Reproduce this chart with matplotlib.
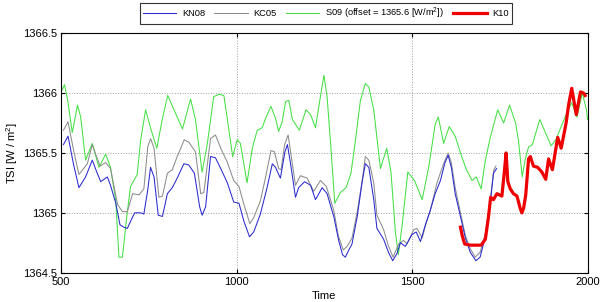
import matplotlib
matplotlib.use("Agg")
import matplotlib.pyplot as plt

plt.rcParams['font.family'] = ['Liberation Sans', 'DejaVu Sans']
plt.rcParams['mathtext.default'] = 'regular'

# KN08
kn_yr = [507, 520, 536, 551, 570, 589, 602, 613, 632, 641, 656, 668, 679, 689, 703, 710,
         727, 736, 747, 755, 765, 777, 789, 803, 817, 831, 850, 864, 880, 895, 902, 912,
         926, 940, 955, 974, 992, 1007, 1021, 1037, 1049, 1068, 1087, 1102, 1111, 1125,
         1138, 1145, 1154, 1168, 1177, 1194, 1211, 1225, 1244, 1258, 1277, 1291, 1302,
         1310, 1320, 1329, 1344, 1358, 1367, 1377, 1391, 1400, 1419, 1433, 1445, 1457,
         1467, 1481, 1500, 1512, 1524, 1538, 1552, 1566, 1581, 1594, 1603, 1612, 1623,
         1638, 1652, 1666, 1682, 1694, 1709, 1723, 1732, 1741]
kn_val = [1365.57, 1365.64, 1365.40, 1365.21, 1365.30, 1365.44, 1365.34, 1365.26, 1365.30,
          1365.23, 1365.08, 1364.90, 1364.88, 1364.87, 1364.96, 1365.00, 1365.00, 1364.99,
          1365.19, 1365.38, 1365.30, 1364.98, 1364.97, 1365.16, 1365.21, 1365.29, 1365.41,
          1365.40, 1365.33, 1365.05, 1364.98, 1365.05, 1365.47, 1365.46, 1365.37, 1365.25,
          1365.09, 1365.08, 1364.93, 1364.80, 1364.84, 1364.99, 1365.21, 1365.41, 1365.38,
          1365.29, 1365.51, 1365.57, 1365.41, 1365.13, 1365.21, 1365.26, 1365.23, 1365.11,
          1365.21, 1365.16, 1364.97, 1364.77, 1364.65, 1364.63, 1364.69, 1364.74, 1364.97,
          1365.26, 1365.41, 1365.38, 1365.11, 1364.87, 1364.78, 1364.67, 1364.60, 1364.66,
          1364.75, 1364.72, 1364.82, 1364.84, 1364.76, 1364.90, 1365.02, 1365.16, 1365.27,
          1365.42, 1365.48, 1365.38, 1365.16, 1364.97, 1364.79, 1364.67, 1364.60, 1364.63,
          1364.80, 1365.08, 1365.33, 1365.37]

# KC05
kc_yr = [507, 520, 536, 551, 575, 589, 611, 627, 641, 661, 675, 689, 704, 722, 736, 747,
         755, 765, 779, 789, 803, 817, 831, 851, 864, 883, 898, 907, 926, 940, 955, 974,
         992, 1007, 1021, 1038, 1049, 1068, 1083, 1098, 1108, 1120, 1127, 1137, 1147,
         1156, 1168, 1182, 1201, 1220, 1239, 1256, 1277, 1290, 1304, 1315, 1329, 1344,
         1358, 1367, 1377, 1391, 1400, 1419, 1432, 1446, 1462, 1476, 1486, 1505, 1514,
         1529, 1541, 1552, 1571, 1590, 1603, 1612, 1623, 1638, 1652, 1666, 1680, 1694,
         1709, 1723, 1733, 1739]
kc_val = [1365.69, 1365.76, 1365.52, 1365.32, 1365.41, 1365.57, 1365.39, 1365.42, 1365.37,
          1365.07, 1365.01, 1365.01, 1365.16, 1365.15, 1365.20, 1365.55, 1365.62, 1365.54,
          1365.13, 1365.14, 1365.33, 1365.36, 1365.47, 1365.61, 1365.59, 1365.51, 1365.16,
          1365.17, 1365.62, 1365.65, 1365.54, 1365.42, 1365.27, 1365.22, 1365.07, 1364.91,
          1364.96, 1365.10, 1365.30, 1365.52, 1365.51, 1365.37, 1365.36, 1365.57, 1365.65,
          1365.47, 1365.23, 1365.31, 1365.29, 1365.18, 1365.27, 1365.22, 1365.02, 1364.81,
          1364.69, 1364.72, 1364.79, 1365.01, 1365.27, 1365.47, 1365.44, 1365.25, 1364.98,
          1364.86, 1364.73, 1364.63, 1364.74, 1364.77, 1364.74, 1364.86, 1364.87, 1364.79,
          1364.92, 1365.02, 1365.25, 1365.41, 1365.50, 1365.42, 1365.21, 1365.00, 1364.81,
          1364.70, 1364.63, 1364.67, 1364.83, 1365.11, 1365.36, 1365.39]

# S09 (offset = 1365.6)
s09_yr = [502, 510, 519, 532, 547, 556, 570, 589, 608, 627, 641, 656, 665, 675, 687, 698,
          717, 727, 741, 758, 773, 789, 804, 822, 846, 869, 883, 902, 917, 935, 950, 964,
          974, 989, 1002, 1011, 1030, 1045, 1059, 1073, 1083, 1098, 1111, 1120, 1130, 1140,
          1149, 1159, 1179, 1198, 1211, 1225, 1239, 1249, 1258, 1268, 1280, 1296, 1312,
          1326, 1339, 1353, 1367, 1377, 1391, 1410, 1428, 1440, 1453, 1461, 1472, 1488,
          1507, 1529, 1548, 1566, 1575, 1590, 1606, 1623, 1638, 1655, 1671, 1683, 1697,
          1709, 1723, 1744, 1761, 1778, 1795, 1803, 1814, 1822, 1832, 1843, 1864, 1883,
          1896, 1910, 1922, 1936, 1955, 1970, 1985, 1997, 2000]
s09_val = [1366.02, 1366.07, 1365.94, 1365.67, 1365.90, 1365.80, 1365.44, 1365.58, 1365.38,
           1365.49, 1365.38, 1365.10, 1364.63, 1364.63, 1364.96, 1365.22, 1365.32, 1365.61,
           1365.86, 1365.68, 1365.54, 1365.79, 1365.98, 1365.86, 1365.70, 1365.95, 1365.78,
           1365.34, 1365.58, 1365.97, 1365.99, 1365.98, 1365.78, 1365.47, 1365.61, 1365.58,
           1365.25, 1365.54, 1365.69, 1365.71, 1365.79, 1365.89, 1365.79, 1365.68, 1365.76,
           1365.93, 1365.94, 1365.78, 1365.69, 1365.86, 1365.82, 1365.71, 1365.97, 1366.15,
           1365.97, 1365.58, 1365.08, 1365.17, 1365.21, 1365.33, 1365.61, 1365.94, 1366.08,
           1366.05, 1365.86, 1365.37, 1365.54, 1365.34, 1364.83, 1364.65, 1364.90, 1365.34,
           1365.27, 1365.11, 1365.39, 1365.74, 1365.80, 1365.58, 1365.72, 1365.64, 1365.50,
           1365.36, 1365.27, 1365.30, 1365.20, 1365.44, 1365.63, 1365.86, 1365.75, 1365.90,
           1365.75, 1365.61, 1365.30, 1365.44, 1365.55, 1365.57, 1365.78, 1365.65, 1365.56,
           1365.61, 1365.70, 1365.80, 1365.92, 1365.80, 1366.00, 1365.86, 1365.78]

# K10
k10_yr = [1638, 1643, 1650, 1666, 1697, 1709, 1718, 1724, 1732, 1742, 1756, 1763, 1768,
          1773, 1780, 1789, 1799, 1808, 1813, 1818, 1824, 1832, 1837, 1846, 1858, 1870,
          1881, 1889, 1900, 1915, 1925, 1939, 1946, 1955, 1968, 1980, 1989, 1993]
k10_val = [1364.88, 1364.81, 1364.74, 1364.73, 1364.73, 1364.78, 1364.97, 1365.13, 1365.11,
           1365.16, 1365.14, 1365.34, 1365.50, 1365.26, 1365.20, 1365.16, 1365.14, 1365.04,
           1365.00, 1365.04, 1365.15, 1365.45, 1365.47, 1365.39, 1365.38, 1365.34, 1365.28,
           1365.45, 1365.36, 1365.63, 1365.54, 1365.75, 1365.90, 1366.04, 1365.82, 1366.01,
           1366.00, 1365.98]

fig = plt.figure(figsize=(6, 3.02), dpi=100)
ax = fig.add_axes([0.1017, 0.097, 0.8775, 0.793])

ax.plot(s09_yr, s09_val, color='#44e044', lw=0.75, zorder=2,
        label='S09 (offset = 1365.6 [W/m$^2$])')
ax.plot(kc_yr, kc_val, color='#8c8c8c', lw=0.75, zorder=3, label='KC05')
ax.plot(kn_yr, kn_val, color='#2a2ad0', lw=0.75, zorder=4, label='KN08')
ax.plot(k10_yr, k10_val, color='#ee0000', lw=2.3, zorder=5, label='K10')

ax.set_xlim(500, 2000)
ax.set_ylim(1364.5, 1366.5)
ax.set_xticks([500, 1000, 1500, 2000])
ax.set_yticks([1364.5, 1365, 1365.5, 1366, 1366.5])
ax.set_yticklabels(['1364.5', '1365', '1365.5', '1366', '1366.5'])
ax.grid(True, linestyle=':', color='#a0a0a0', lw=0.7)
ax.tick_params(direction='in', top=True, right=True, length=3, labelsize=8, pad=3)
for s in ax.spines.values():
    s.set_linewidth(0.8)

ax.set_xlabel('Time', fontsize=8, labelpad=3)
ax.set_ylabel('TSI [W / m$^2$]', fontsize=8, labelpad=2)

h, lab = ax.get_legend_handles_labels()
order = [2, 1, 0, 3]
leg = fig.legend(handles=[h[i] for i in order], labels=[lab[i] for i in order],
                 loc='center', bbox_to_anchor=(0.543, 0.955), ncol=4,
                 fontsize=6.7, frameon=True, fancybox=False, edgecolor='black',
                 handlelength=3.6, handletextpad=0.6, columnspacing=1.0,
                 borderpad=0.35, borderaxespad=0)
leg.get_frame().set_linewidth(0.8)

fig.savefig('out.png', dpi=100)
